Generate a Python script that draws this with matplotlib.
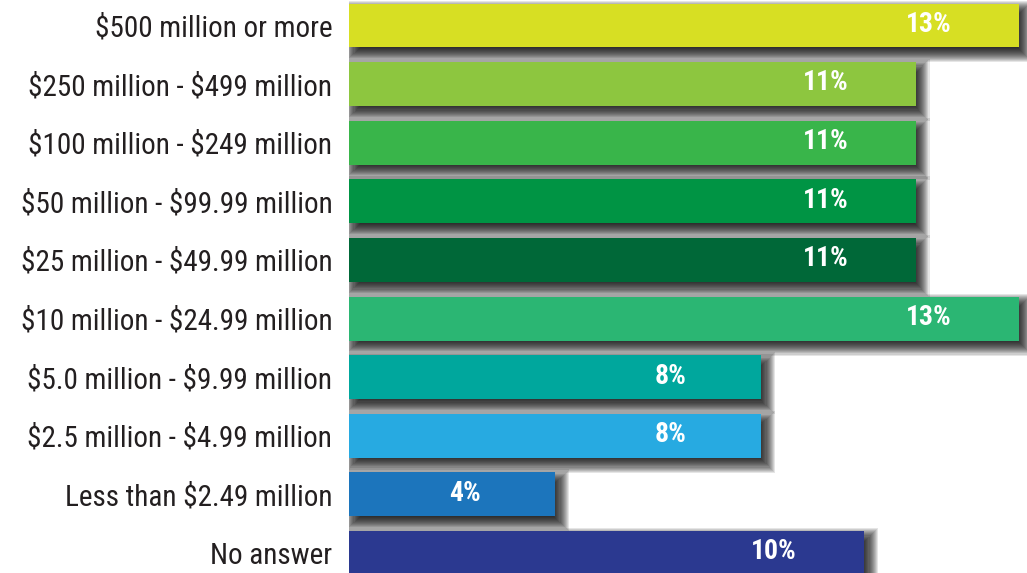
import matplotlib
matplotlib.use('Agg')
import matplotlib.pyplot as plt
import numpy as np
from matplotlib import font_manager

categories = ['\\$500 million or more', '\\$250 million - \\$499 million',
              '\\$100 million - \\$249 million', '\\$50 million - \\$99.99 million',
              '\\$25 million - \\$49.99 million', '\\$10 million - \\$24.99 million',
              '\\$5.0 million - \\$9.99 million', '\\$2.5 million - \\$4.99 million',
              'Less than \\$2.49 million', 'No answer']
values = [13, 11, 11, 11, 11, 13, 8, 8, 4, 10]
colors = ['#D7DF23', '#8DC63F', '#39B54A', '#009444', '#006838',
          '#2BB673', '#00A79D', '#27AAE1', '#1C75BC', '#2B3990']

# narrow font if there is one
have = {f.name for f in font_manager.fontManager.ttflist}
fam = 'DejaVu Sans'
for name in ['Liberation Sans Narrow', 'Arial Narrow', 'Roboto Condensed',
             'DejaVu Sans Condensed', 'Open Sans Condensed', 'Noto Sans Condensed']:
    if name in have:
        fam = name
        break
plt.rcParams['font.family'] = [fam, 'DejaVu Sans']
narrow = fam != 'DejaVu Sans'

fig = plt.figure(figsize=(10.27, 5.73), dpi=100)
ax = fig.add_axes([349 / 1027, 0, 1 - 349 / 1027, 1])
ax.set_xlim(0, 13.165)
ax.set_ylim(9.34, -0.435)

pos = np.arange(len(values))
vals = np.array(values, dtype=float)
h = 0.75

# pixel size in data units
p0 = ax.transData.inverted().transform((0, 0))
p1 = ax.transData.inverted().transform((1, 1))
px, py = abs(p1[0] - p0[0]), abs(p1[1] - p0[1])

# blurred drop shadow: stack of rects grown/shrunk around an offset copy
dx, dy, blur = 5, 6, 9
for e in np.linspace(-blur, blur, 18):
    ax.barh(pos + dy * py, vals + 2 * e * px, left=dx * px - e * px,
            height=h + 2 * e * py, color='black', alpha=0.1,
            linewidth=0, zorder=1)

ax.barh(pos, vals, height=h, color=colors, zorder=3)

for y, v in zip(pos, values):
    ax.text(v - 1.75, y - 0.02, f'{v}%', color='white',
            fontsize=20 if narrow else 16, fontweight='bold',
            ha='center', va='center', zorder=4)

ax.set_yticks(pos)
ax.set_yticklabels(categories, fontsize=21 if narrow else 17,
                   color='#231F20')
ax.tick_params(axis='y', length=0, pad=12)
ax.set_xticks([])
for s in ax.spines.values():
    s.set_visible(False)

fig.savefig('out.png', dpi=100)
